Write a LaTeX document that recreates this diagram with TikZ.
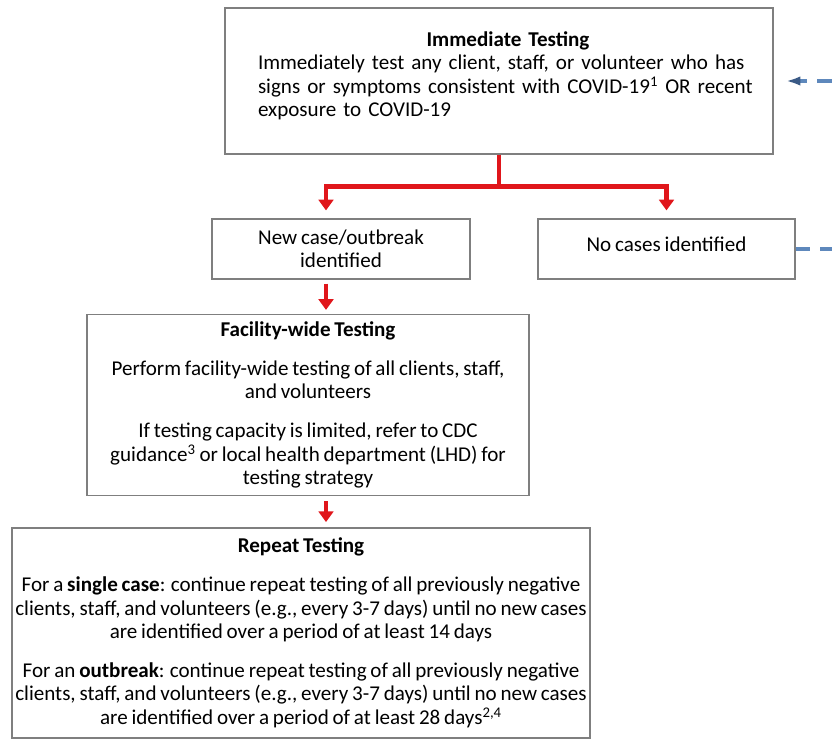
\documentclass[tikz,border=0pt]{standalone}
\usepackage{fontspec}
\setmainfont{Carlito}[WordSpace=0.8]
\usetikzlibrary{arrows.meta, positioning, calc}
\definecolor{boxgrey}{HTML}{7F7F7F}
\definecolor{flowred}{HTML}{E0161B}
\definecolor{loopblue}{HTML}{5E88BC}
\definecolor{loophead}{HTML}{3A5A86}

\begin{document}
\begin{tikzpicture}[x=0.75pt, y=-0.75pt,
  font=\fontsize{15.8pt}{17.6pt}\selectfont,
  stage/.style={draw=boxgrey, line width=0.9pt, align=center, inner sep=0pt},
  flow/.style={flowred, line width=3.4pt},
  flowarrow/.style={flow, -{Triangle[width=11pt, length=8pt]}},
  loopback/.style={loopblue, line width=2.4pt, dash pattern=on 11pt off 7.5pt,
    -{Latex[length=11pt, width=7pt, color=loophead]}}]
  \useasboundingbox (0,0) rectangle (832,740);
  \node[stage, minimum width=411pt, minimum height=109.5pt] (immediate) at (499,81) {};
  \node[text width=375pt, align=left, inner sep=0pt] (immediatetext) at (508,76)
    {\makebox[375pt]{\bfseries Immediate Testing}\\
     Immediately test any client, staff, or volunteer who has\\
     signs or symptoms consistent with COVID-19\textsuperscript{1} OR recent\\
     exposure to COVID-19};
  \node[stage, minimum width=193.5pt, minimum height=45pt] (newcase) at (341,249)
    {New case/outbreak\\identified};
  \node[stage, minimum width=192.75pt, minimum height=45pt, text depth=7pt] (nocases) at (666.5,249)
    {No cases identified};
  \node[stage, minimum width=331.5pt, minimum height=135.75pt] (facility) at (308,405)
    {\textbf{Facility-wide Testing}\\[11.5pt]
     Perform facility-wide testing of all clients, staff,\\
     and volunteers\\[11.5pt]
     If testing capacity is limited, refer to CDC\\
     guidance\textsuperscript{3} or local health department (LHD) for\\
     testing strategy};
  \node[stage, minimum width=433.5pt, minimum height=157.5pt] (repeattest) at (301,633)
    {\textbf{Repeat Testing}\\[11.5pt]
     For a \textbf{single case}: continue repeat testing of all previously negative\\
     clients, staff, and volunteers (e.g., every 3-7 days) until no new cases\\
     are identified over a period of at least 14~days\\[11.5pt]
     For an \textbf{outbreak}: continue repeat testing of all previously negative\\
     clients, staff, and volunteers (e.g., every 3-7 days) until no new cases\\
     are identified over a period of at least 28~days\textsuperscript{2,4}};
  \coordinate (col) at (326,0);
  \draw[flow] (immediate.south) -- ++(0,32) coordinate (split);
  \draw[flowarrow, shorten >=6pt] (split) -| (newcase.north -| col);
  \draw[flowarrow, shorten >=6pt] (split) -| (nocases.north);
  \draw[flowarrow, shorten <=3pt, shorten >=3pt] (newcase.south -| col) -- (facility.north -| col);
  \draw[flowarrow, shorten <=4pt, shorten >=4pt] (facility.south -| col) -- (repeattest.north -| col);
  \draw[loopback] (nocases.east) -- ++(45,0) |- ([xshift=9pt]immediate.east);
\end{tikzpicture}
\end{document}
